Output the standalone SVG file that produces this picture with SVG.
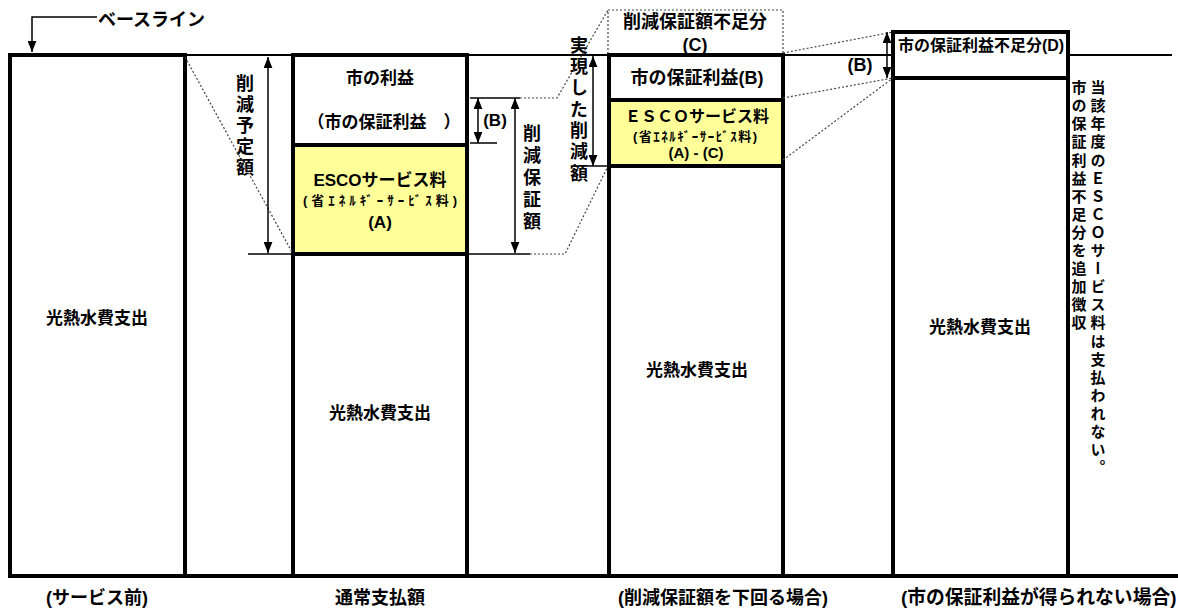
<svg xmlns="http://www.w3.org/2000/svg" width="1178" height="610" viewBox="0 0 1178 610">
<style>
text{font-family:"Liberation Sans","Noto Sans CJK JP",sans-serif;font-weight:bold;fill:#000}
.c{text-anchor:middle}
.v{writing-mode:vertical-rl}
.box{fill:#fff;stroke:#000;stroke-width:4}
.yel{fill:#FFFF99;stroke:#000;stroke-width:4}
.thin{stroke:#000;stroke-width:1.5;fill:none}
.dot{stroke:#444;stroke-width:1.2;stroke-dasharray:2 2;fill:none}
.arr{stroke:#000;stroke-width:1.5;fill:none;marker-start:url(#ah);marker-end:url(#ah)}
</style>
<defs>
<marker id="ah" viewBox="0 0 10 8" refX="10" refY="4" markerWidth="11" markerHeight="9" markerUnits="userSpaceOnUse" orient="auto-start-reverse"><path d="M0,0 L10,4 L0,8 z" fill="#000"/></marker>
<marker id="ah1" viewBox="0 0 10 8" refX="10" refY="4" markerWidth="11" markerHeight="9" markerUnits="userSpaceOnUse" orient="auto"><path d="M0,0 L10,4 L0,8 z" fill="#000"/></marker>
</defs>
<rect width="1178" height="610" fill="#fff"/>
<g id="baseline">
<line x1="10" y1="55" x2="1172" y2="55" stroke="#000" stroke-width="2"/>
<path d="M97,17 H32 V52" class="thin" marker-end="url(#ah1)"/>
<text x="98" y="26" font-size="18">ベースライン</text>
</g>
<g id="col1">
<rect x="10" y="55" width="175" height="521" class="box"/>
<text x="97" y="324" class="c" font-size="17">光熱水費支出</text>
</g>
<g id="col2">
<rect x="293" y="55" width="174" height="521" class="box"/>
<rect x="293" y="145" width="174" height="109" class="yel"/>
<text x="380" y="84" class="c" font-size="17">市の利益</text>
<text x="384" y="128" class="c" font-size="17">（市の保証利益　）</text>
<text x="380" y="186" class="c" font-size="17">ESCOサービス料</text>
<text x="380" y="205" class="c" font-size="13" textLength="154" lengthAdjust="spacing">(省ｴﾈﾙｷﾞｰｻｰﾋﾞｽ料)</text>
<text x="380" y="228" class="c" font-size="17">(A)</text>
<text x="380" y="419" class="c" font-size="17">光熱水費支出</text>
</g>
<g id="col3">
<rect x="608" y="10" width="175" height="45" class="dot"/>
<text x="695" y="28" class="c" font-size="18">削減保証額不足分</text>
<text x="695" y="51" class="c" font-size="18">(C)</text>
<rect x="609" y="55" width="174" height="521" class="box"/>
<rect x="609" y="100" width="174" height="66" class="yel"/>
<text x="697" y="84" class="c" font-size="18">市の保証利益(B)</text>
<text x="697" y="122" class="c" font-size="16">ＥＳＣＯサービス料</text>
<text x="695" y="141" class="c" font-size="13" textLength="124" lengthAdjust="spacing">(省ｴﾈﾙｷﾞｰｻｰﾋﾞｽ料)</text>
<text x="696" y="158" class="c" font-size="15">(A) - (C)</text>
<text x="697" y="376" class="c" font-size="17">光熱水費支出</text>
</g>
<g id="col4">
<rect x="893" y="32" width="175" height="544" class="box"/>
<line x1="893" y1="78" x2="1068" y2="78" stroke="#000" stroke-width="4"/>
<text x="981" y="51" class="c" font-size="16">市の保証利益不足分(D)</text>
<text x="980" y="333" class="c" font-size="17">光熱水費支出</text>
</g>
<g id="notes">
<text x="1078" y="80" class="v" font-size="15" letter-spacing="3.1">市の保証利益不足分を追加徴収</text>
<text x="1097" y="80" class="v" font-size="15" letter-spacing="3.1">当該年度のＥＳＣＯサービス料は支払われない。</text>
<text x="243" y="74" class="v" font-size="18" letter-spacing="3">削減予定額</text>
<text x="530" y="124" class="v" font-size="18" letter-spacing="4">削減保証額</text>
<text x="577" y="36" class="v" font-size="18" letter-spacing="3.3">実現した削減額</text>
<text x="495" y="126" class="c" font-size="17">(B)</text>
<text x="860" y="71" class="c" font-size="18">(B)</text>
</g>
<g id="bottom">
<line x1="8" y1="576" x2="1178" y2="576" stroke="#000" stroke-width="4"/>
<text x="97" y="604" class="c" font-size="18">(サービス前)</text>
<text x="380" y="604" class="c" font-size="18">通常支払額</text>
<text x="723" y="604" class="c" font-size="18">(削減保証額を下回る場合)</text>
<text x="901" y="604" font-size="18.8">(市の保証利益が得られない場合)</text>
</g>
<g id="connectors">
<path d="M185,57 L293,254" class="dot"/>
<path d="M520,98 H557 L608,10" class="dot"/>
<path d="M530,254 H565 L608,166" class="dot"/>
<path d="M783,53 L893,32" class="dot"/>
<path d="M783,98 L893,78" class="dot"/>
<path d="M783,160 L893,78" class="dot"/>
<line x1="248" y1="254" x2="293" y2="254" class="thin"/>
<line x1="467" y1="254" x2="530" y2="254" class="thin"/>
<line x1="470" y1="98" x2="520" y2="98" class="thin"/>
<line x1="470" y1="143" x2="497" y2="143" class="thin"/>
<line x1="587" y1="166" x2="609" y2="166" class="thin"/>
<line x1="268" y1="57" x2="268" y2="253" class="arr"/>
<line x1="478" y1="98" x2="478" y2="143" class="arr"/>
<line x1="515" y1="98" x2="515" y2="253" class="arr"/>
<line x1="593" y1="56" x2="593" y2="166" class="arr"/>
<line x1="887" y1="32" x2="887" y2="78" class="arr"/>
</g>
</svg>
